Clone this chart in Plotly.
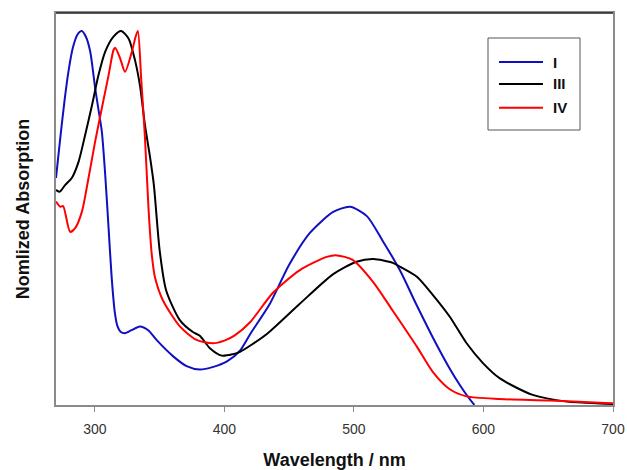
import plotly.graph_objects as go

# Normalized absorption spectra (wavelength in nm, intensity normalized to 1)
wl_I = [270, 273.5, 276.8, 280, 283, 286.5, 289.9, 293, 296.4, 300.2, 303, 305.4,
        308, 310.6, 313, 315.5, 317.5, 319.8, 323.2, 328.3, 334.7, 341.2, 347.6,
        360.5, 370.8, 381, 391.4, 401.7, 412, 420, 435, 450, 466, 484, 497, 510,
        522, 535.5, 548, 561, 574, 582, 588, 593]
abs_I = [0.607, 0.72, 0.82, 0.90, 0.955, 0.99, 1.0, 0.985, 0.945, 0.848, 0.785,
         0.73, 0.615, 0.473, 0.34, 0.245, 0.21, 0.196, 0.192, 0.20, 0.21, 0.20,
         0.174, 0.13, 0.104, 0.095, 0.102, 0.116, 0.145, 0.19, 0.27, 0.375, 0.46,
         0.516, 0.53, 0.505, 0.44, 0.36, 0.27, 0.18, 0.097, 0.052, 0.022, 0.0]

wl_III = [270, 272.8, 277, 282.2, 287.4, 292.5, 297.7, 302.8, 308, 314.4, 320.3,
          326, 331.1, 335, 338.6, 342.5, 345.5, 350, 355, 365.6, 375.7, 381,
          388.8, 398, 406.6, 412, 432.8, 458, 484, 502, 515, 530, 535.5, 548.6,
          561, 574, 587, 599.6, 612.7, 638, 664.5, 690, 700]
abs_III = [0.575, 0.57, 0.588, 0.607, 0.65, 0.722, 0.80, 0.882, 0.945, 0.985, 1.0,
           0.98, 0.92, 0.85, 0.75, 0.665, 0.59, 0.414, 0.307, 0.227, 0.195, 0.185,
           0.152, 0.132, 0.136, 0.142, 0.19, 0.27, 0.35, 0.383, 0.39, 0.38, 0.37,
           0.343, 0.294, 0.236, 0.165, 0.112, 0.071, 0.027, 0.009, 0.004, 0.003]

wl_IV = [270, 273.3, 275.5, 280.9, 284.8, 290, 295.1, 300.2, 305.4, 310.6, 314.4,
         315.7, 319.5, 323.3, 328.6, 331.5, 333.2, 335.8, 338.6, 341.5, 344,
         346.5, 352.5, 365.6, 378.5, 391, 400, 408, 420, 437.5, 458, 479,
         487, 499, 515, 530, 548.6, 561, 574, 587, 612.7, 651, 690, 700]
abs_IV = [0.544, 0.53, 0.532, 0.463, 0.473, 0.517, 0.607, 0.704, 0.794, 0.882,
          0.949, 0.955, 0.927, 0.891, 0.945, 0.985, 1.0, 0.87, 0.72, 0.52, 0.40,
          0.34, 0.28, 0.21, 0.174, 0.165, 0.172, 0.186, 0.222, 0.30, 0.36,
          0.396, 0.40, 0.388, 0.328, 0.252, 0.156, 0.088, 0.042, 0.023,
          0.016, 0.012, 0.006, 0.005]

x_ticks = [300, 400, 500, 600, 700]

series = [
    ("I", wl_I, abs_I, "#1010c0"),
    ("III", wl_III, abs_III, "#000000"),
    ("IV", wl_IV, abs_IV, "#ff0000"),
]

fig = go.Figure()
for name, x, y, color in series:
    fig.add_trace(go.Scatter(
        x=x, y=y, name=name, mode="lines", showlegend=False,
        line=dict(color=color, width=2, shape="spline", smoothing=0.7),
    ))

# Legend drawn as a framed key in the upper right of the plot area
key_box = dict(x0=0.7756, x1=0.9408, y0=0.7015, y1=0.9362)
key_rows = [0.875, 0.819, 0.758]
fig.add_shape(type="rect", xref="paper", yref="paper", **key_box,
              line=dict(color="#555", width=1), fillcolor="white", layer="above")
for (name, _, _, color), ky in zip(series, key_rows):
    fig.add_shape(type="line", xref="paper", yref="paper",
                  x0=0.7953, x1=0.8743, y0=ky, y1=ky,
                  line=dict(color=color, width=2), layer="above")
    fig.add_annotation(xref="paper", yref="paper", x=0.888, y=ky,
                       xanchor="left", yanchor="middle", showarrow=False,
                       text=f"<b>{name}</b>",
                       font=dict(size=15, color="#111",
                                 family="Liberation Sans, Arial, sans-serif"))

axis_gray = "#8a8a8a"
fig.update_layout(
    width=627, height=470,
    margin=dict(l=56, r=14, t=13, b=65),
    paper_bgcolor="white", plot_bgcolor="white",
    font=dict(family="Liberation Sans, Arial, sans-serif", color="#000"),
    showlegend=False,
    xaxis=dict(
        range=[270, 700], tickvals=x_ticks, ticktext=[str(v) for v in x_ticks],
        showgrid=False, zeroline=False, automargin=False,
        showline=True, linecolor=axis_gray, linewidth=1.5, mirror=True,
        ticks="outside", ticklen=5, tickcolor=axis_gray, tickwidth=1,
        tickfont=dict(size=14, color="#333"), ticklabelstandoff=5,
        title=dict(text="<b>Wavelength / nm</b>", font=dict(size=18, color="#111"),
                   standoff=22),
    ),
    yaxis=dict(
        range=[0, 1.048], showticklabels=False, ticks="",
        showgrid=False, zeroline=False, automargin=False,
        showline=True, linecolor=axis_gray, linewidth=1.5, mirror=True,
        title=dict(text="<b>Nomlized Absorption</b>", font=dict(size=18, color="#111"),
                   standoff=20),
    ),
)

# darker top border of the frame
fig.add_shape(type="line", xref="paper", yref="paper", x0=0, x1=1, y0=1, y1=1,
              line=dict(color="#222", width=1.5))

fig.write_html("out.html")
